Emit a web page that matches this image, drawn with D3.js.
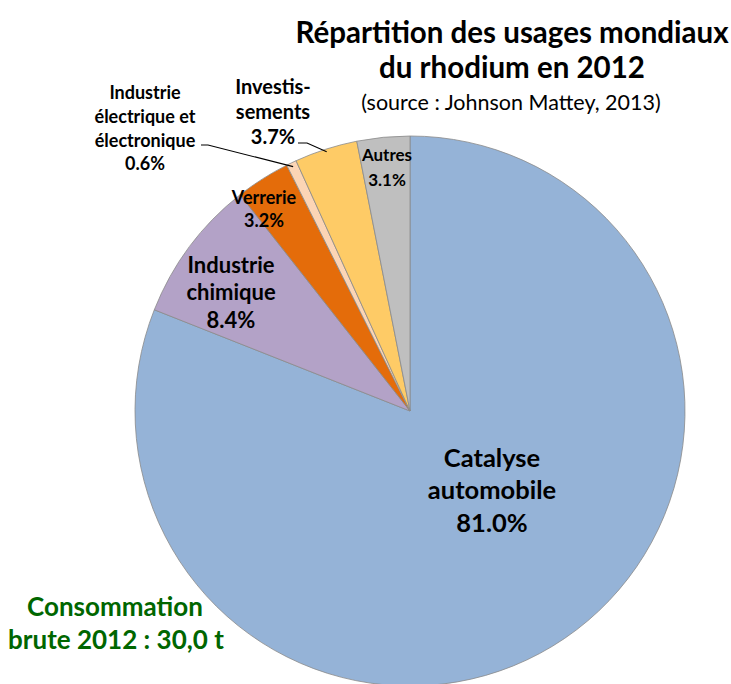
<!DOCTYPE html>
<html lang="fr">
<head>
    <meta charset="UTF-8">
    <title>Répartition des usages mondiaux du rhodium en 2012</title>
    <style>
        * { margin:0; border:0; box-sizing:border-box; }
        body { background:#fff; }
        #chart { width:731px; height:684px; overflow:hidden; }
        text { font-family: Lato, "Open Sans", sans-serif; }
    </style>
    <script src="https://unpkg.com/d3@7.6.1/dist/d3.min.js"></script>
    <script>
        // data, clockwise from top
        const categories=["Catalyse automobile","Industrie chimique","Verrerie","Industrie électrique et électronique","Investissements","Autres"];
        const shares=[81.0,8.4,3.2,0.6,3.7,3.1];
        const labelLines=[
            ["Catalyse","automobile","81.0%"],
            ["Industrie","chimique","8.4%"],
            ["Verrerie","3.2%"],
            ["Industrie","électrique et","électronique","0.6%"],
            ["Investis-","sements","3.7%"],
            ["Autres","3.1%"]
        ];
        const colors=["#95b3d7","#b3a2c7","#e46c0a","#fcd5b5","#fecb66","#bfbfbf"];
    </script>
</head>
<body>
    <div id="chart"></div>
    <script>
        const width=731;
        const height=684;
        const cx=410;
        const cy=411;
        const radius=275;

        // label placement relative to pie centre: [dx, dy of first line, line step, font size]
        const labelPos=[
            [82,47,32.5,25.5],
            [-179,-146,27.5,22],
            [-146,-213,23,18],
            [-265,-318,23.7,18],
            [-137,-324,25,20],
            [-23,-256,25,17]
        ];

        const data=categories.map((c,i)=>({name:c,value:shares[i],lines:labelLines[i],color:colors[i],pos:labelPos[i]}));

        const pie=d3.pie().sort(null).value(d=>d.value);
        const arcs=pie(data);
        const arc=d3.arc().innerRadius(0).outerRadius(radius);

        const svg=d3.select("#chart").append("svg")
            .attr("width",width)
            .attr("height",height);

        const g=svg.append("g").attr("transform",`translate(${cx},${cy})`);
        g.selectAll("path")
            .data(arcs)
            .join("path")
              .attr("d",arc)
              .attr("fill",d=>d.data.color)
              .attr("stroke","#8a8a8a")
              .attr("stroke-width",0.8);

        // leader lines for the two outside labels
        const leaders=[
            {i:3,from:[-209,-266],knee:[-202,-266],r:0.985},
            {i:4,from:[-112,-268],knee:[-103,-268],r:0.99}
        ];
        leaders.forEach(l=>{
            const a=arcs[l.i];
            const mid=(a.startAngle+a.endAngle)/2;
            const end=[Math.sin(mid)*radius*l.r,-Math.cos(mid)*radius*l.r];
            g.append("path")
                .attr("d",d3.line()([l.from,l.knee,end]))
                .attr("fill","none")
                .attr("stroke","#000")
                .attr("stroke-width",1.1);
        });

        g.selectAll("text.lbl")
            .data(arcs)
            .join("text")
              .attr("class","lbl")
              .attr("text-anchor","middle")
              .attr("font-weight","bold")
              .attr("fill","#000")
              .attr("font-size",d=>d.data.pos[3])
              .each(function(d){
                  const t=d3.select(this);
                  const p=d.data.pos;
                  d.data.lines.forEach((s,k)=>{
                      t.append("tspan")
                        .attr("x",p[0])
                        .attr("y",p[1]+k*p[2])
                        .attr("dy","0.35em")
                        .text(s);
                  });
              });

        // title
        const title=svg.append("g").attr("text-anchor","middle");
        title.append("text").attr("x",512).attr("y",33).attr("dy","0.35em")
            .attr("font-size",29.5).attr("font-weight","bold").text("Répartition des usages mondiaux");
        title.append("text").attr("x",512).attr("y",68).attr("dy","0.35em")
            .attr("font-size",29.5).attr("font-weight","bold").text("du rhodium en 2012");
        title.append("text").attr("x",511).attr("y",102).attr("dy","0.35em")
            .attr("font-size",21.5).text("(source : Johnson Mattey, 2013)");

        // total consumption note
        const note=svg.append("g").attr("text-anchor","middle").attr("fill","#006600")
            .attr("font-size",26).attr("font-weight","bold");
        note.append("text").attr("x",115).attr("y",607).attr("dy","0.35em").text("Consommation");
        note.append("text").attr("x",116).attr("y",640).attr("dy","0.35em").text("brute 2012 : 30,0 t");
    </script>
</body>
</html>
